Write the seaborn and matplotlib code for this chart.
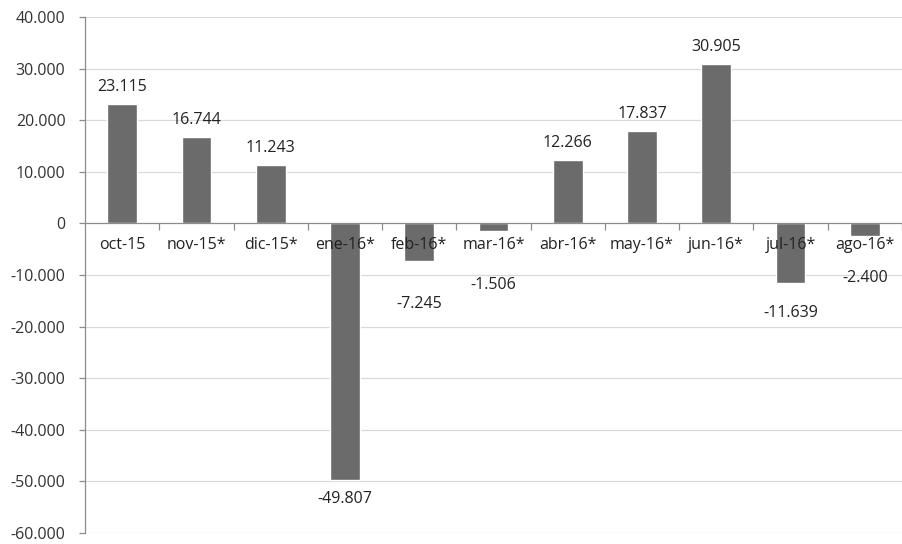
import matplotlib
matplotlib.use("Agg")
import matplotlib.pyplot as plt
import matplotlib.ticker as mticker
import seaborn as sns
import pandas as pd
import numpy as np

categories = ["oct-15", "nov-15*", "dic-15*", "ene-16*", "feb-16*", "mar-16*",
              "abr-16*", "may-16*", "jun-16*", "jul-16*", "ago-16*"]
values = [23115, 16744, 11243, -49807, -7245, -1506, 12266, 17837, 30905, -11639, -2400]
yticks = [40000, 30000, 20000, 10000, 0, -10000, -20000, -30000, -40000, -50000, -60000]

# label placement (style): distance in pixels of label centre beyond the bar end
label_gap_px = [17, 17, 17, 19, 43, 54, 17, 17, 17, 30, 42]

def fmt(v):
    return f"{v:,.0f}".replace(",", ".")

sns.set_theme(style="white")
plt.rcParams["font.family"] = ["Open Sans", "DejaVu Sans"]

df = pd.DataFrame({"cat": categories, "val": values})

fig = plt.figure(figsize=(9.02, 5.44), dpi=100)
ax = fig.add_axes([85 / 902, 1 - 533 / 544, 1 - 85 / 902, (533 - 17) / 544])

for t in yticks:
    if t != 0:
        ax.axhline(t, color="#d9d9d9", linewidth=0.9, zorder=0)

sns.barplot(data=df, x="cat", y="val", color="#6b6b6b", saturation=1, width=0.4, ax=ax, zorder=1)

ax.set_ylim(-60000, 40000)
ax.set_xlim(-0.5, len(categories) - 0.5)
ax.set_yticks(yticks)
ax.yaxis.set_major_formatter(mticker.FuncFormatter(lambda v, p: fmt(v)))
ax.grid(False)
ax.set_axisbelow(False)

for s in ["top", "right"]:
    ax.spines[s].set_visible(False)
ax.spines["left"].set_color("#8c8c8c")
ax.spines["left"].set_linewidth(0.9)
ax.spines["bottom"].set_position(("data", 0))
ax.spines["bottom"].set_color("#8c8c8c")
ax.spines["bottom"].set_linewidth(0.9)

ax.tick_params(axis="y", which="major", length=4, width=0.9, color="#8c8c8c",
               labelsize=11.5, labelcolor="#333333", pad=10, left=True)
ax.tick_params(axis="x", which="major", length=0, labelsize=11.5, labelcolor="#222222", pad=10)
ax.set_xticks(np.arange(len(categories)) + 0.5, minor=True)
ax.tick_params(axis="x", which="minor", length=5, width=0.9, color="#8c8c8c", bottom=True, direction="out")
ax.set_xlabel("")
ax.set_ylabel("")

for i, (v, g) in enumerate(zip(values, label_gap_px)):
    dy = g * 72 / 100
    ax.annotate(fmt(v), (i, v), xytext=(0, dy if v >= 0 else -dy), textcoords="offset points",
                ha="center", va="center", fontsize=11.5, color="#222222", zorder=5)

fig.savefig("out.png", dpi=100)
